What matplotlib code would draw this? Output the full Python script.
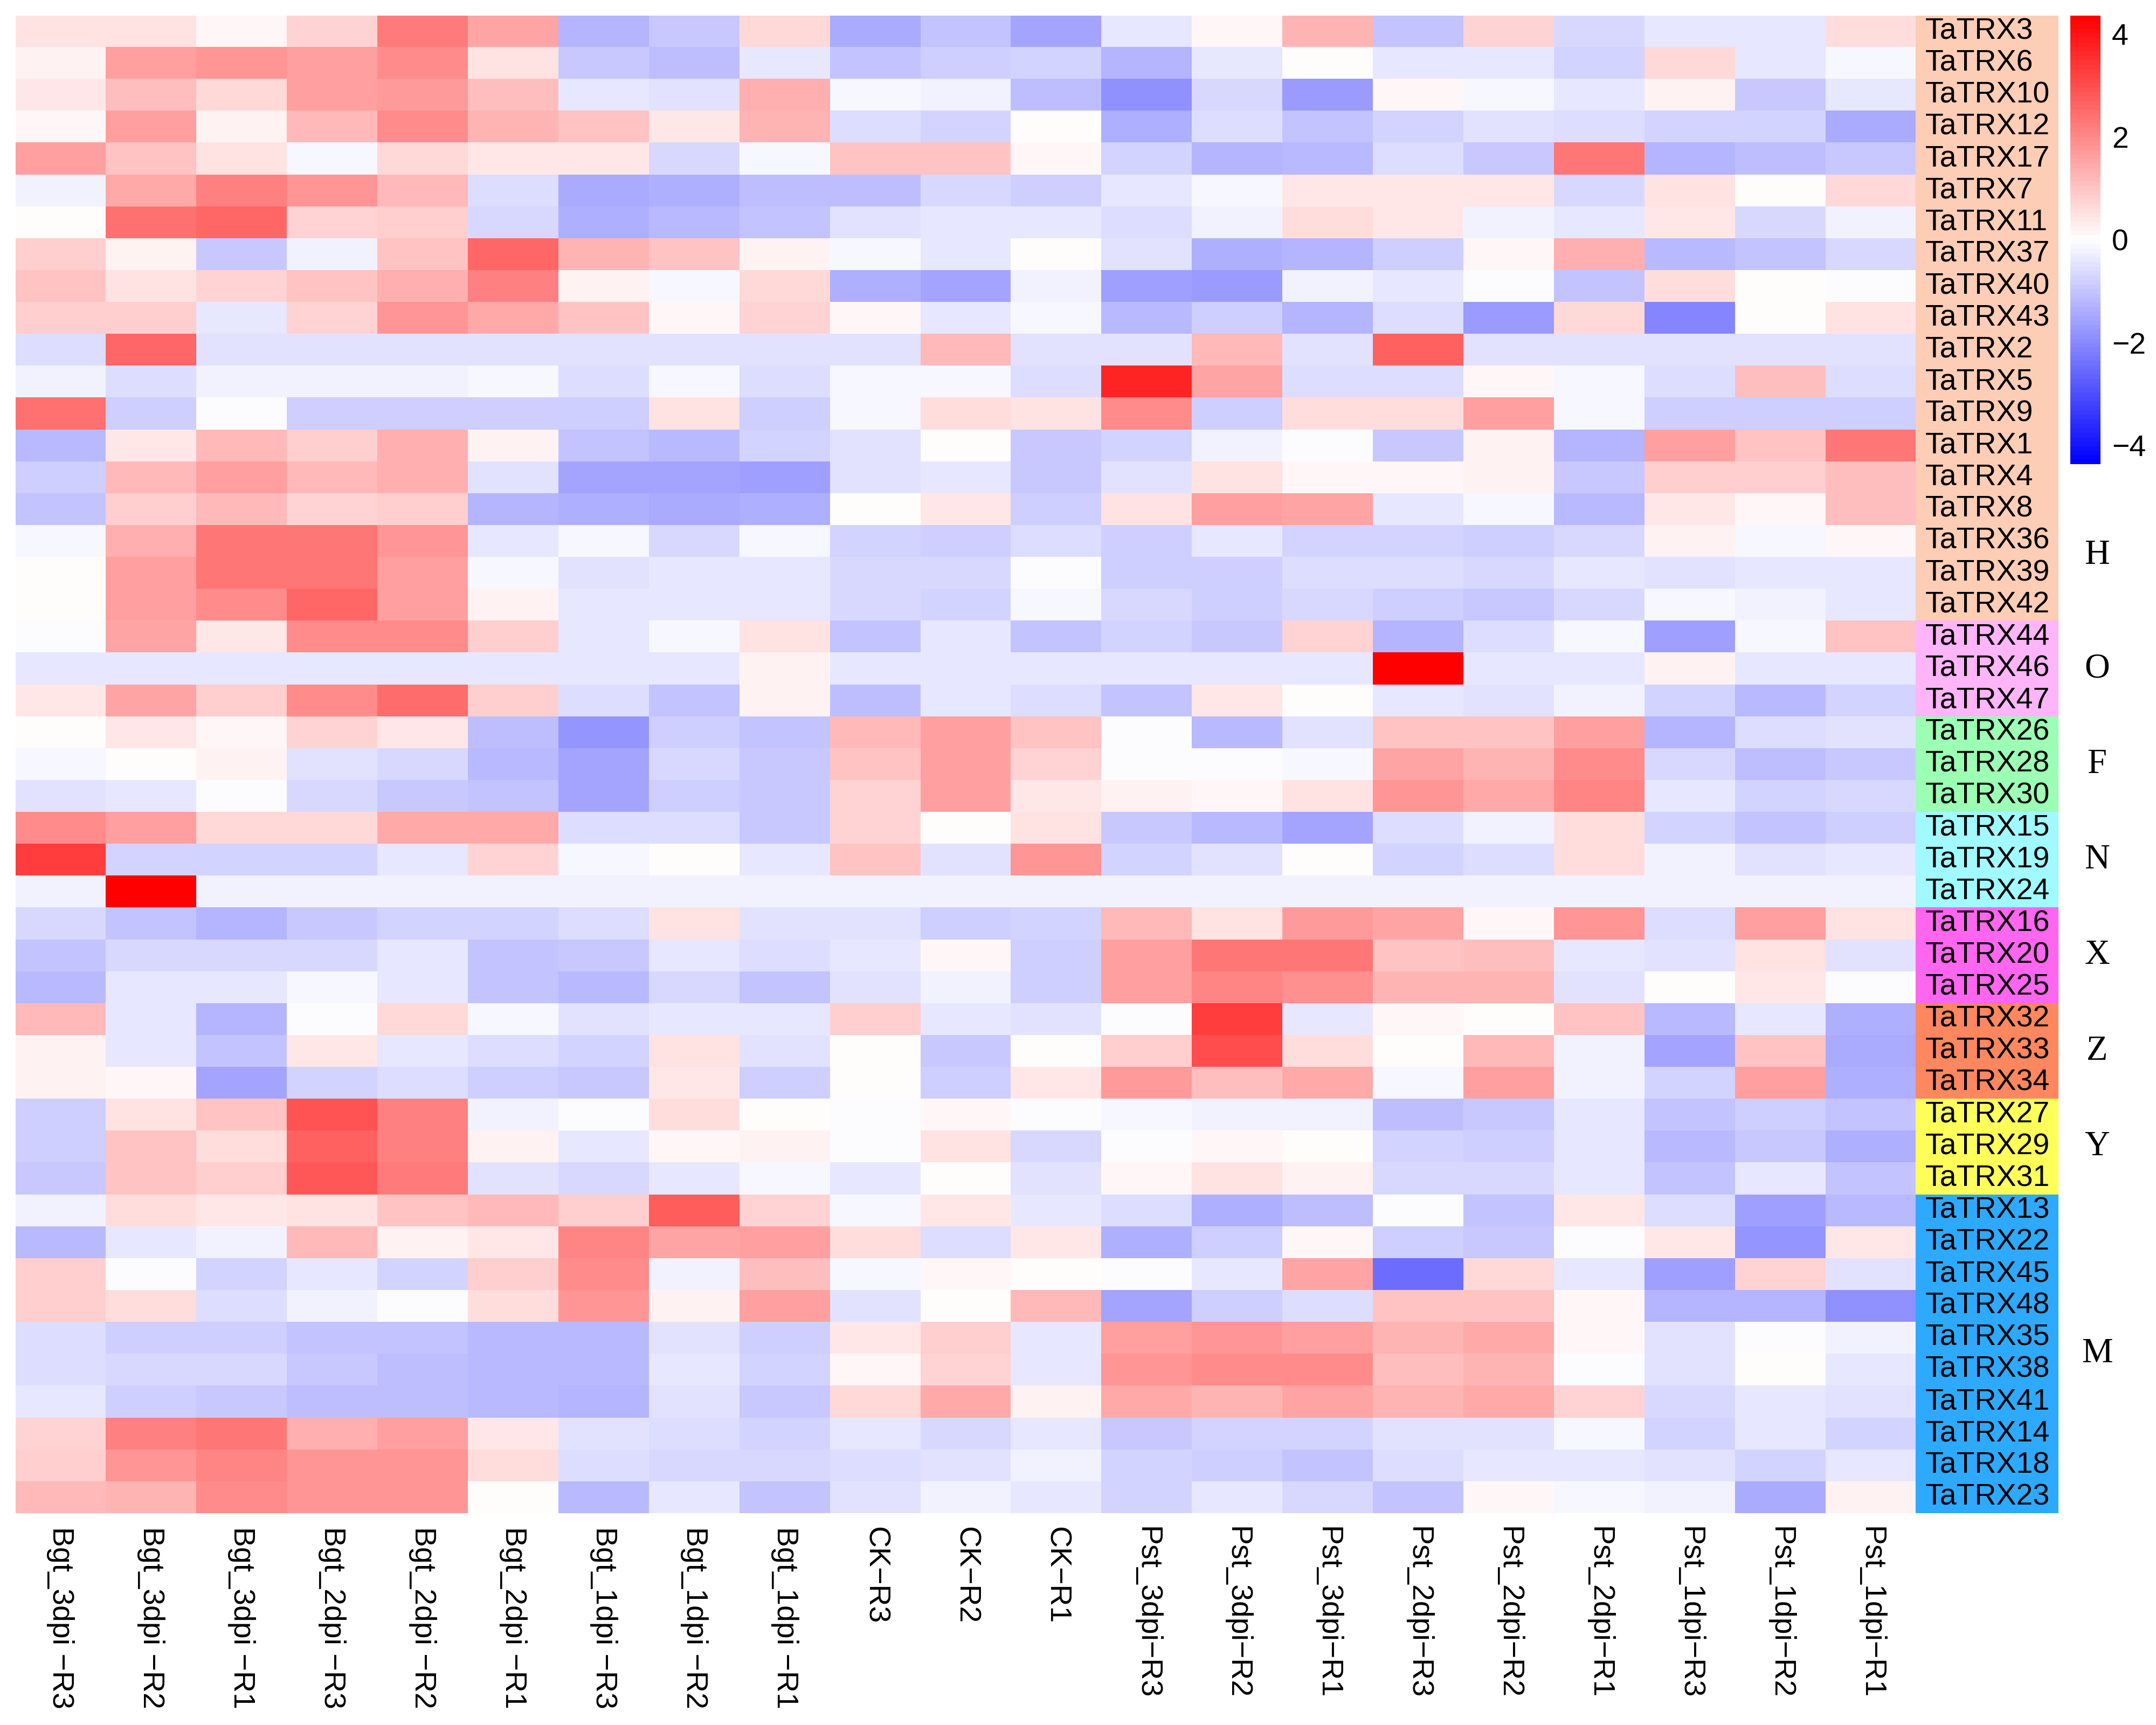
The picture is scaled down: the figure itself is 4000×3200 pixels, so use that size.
import numpy as np
import matplotlib.pyplot as plt
from matplotlib.colors import LinearSegmentedColormap, ListedColormap

plt.rcParams['font.family'] = ['Liberation Sans', 'DejaVu Sans']

# column (sample) names
samples = ['Bgt_3dpi \u2212R3', 'Bgt_3dpi \u2212R2', 'Bgt_3dpi \u2212R1',
           'Bgt_2dpi \u2212R3', 'Bgt_2dpi \u2212R2', 'Bgt_2dpi \u2212R1',
           'Bgt_1dpi \u2212R3', 'Bgt_1dpi \u2212R2', 'Bgt_1dpi \u2212R1',
           'CK\u2212R3', 'CK\u2212R2', 'CK\u2212R1',
           'Pst_3dpi\u2212R3', 'Pst_3dpi\u2212R2', 'Pst_3dpi\u2212R1',
           'Pst_2dpi\u2212R3', 'Pst_2dpi\u2212R2', 'Pst_2dpi\u2212R1',
           'Pst_1dpi\u2212R3', 'Pst_1dpi\u2212R2', 'Pst_1dpi\u2212R1']

genes = ['TaTRX3', 'TaTRX6', 'TaTRX10', 'TaTRX12', 'TaTRX17', 'TaTRX7', 'TaTRX11',
         'TaTRX37', 'TaTRX40', 'TaTRX43', 'TaTRX2', 'TaTRX5', 'TaTRX9', 'TaTRX1',
         'TaTRX4', 'TaTRX8', 'TaTRX36', 'TaTRX39', 'TaTRX42',
         'TaTRX44', 'TaTRX46', 'TaTRX47',
         'TaTRX26', 'TaTRX28', 'TaTRX30',
         'TaTRX15', 'TaTRX19', 'TaTRX24',
         'TaTRX16', 'TaTRX20', 'TaTRX25',
         'TaTRX32', 'TaTRX33', 'TaTRX34',
         'TaTRX27', 'TaTRX29', 'TaTRX31',
         'TaTRX13', 'TaTRX22', 'TaTRX45', 'TaTRX48', 'TaTRX35', 'TaTRX38',
         'TaTRX41', 'TaTRX14', 'TaTRX18', 'TaTRX23']

groups = ['H', 'O', 'F', 'N', 'X', 'Z', 'Y', 'M']
group_sizes = [19, 3, 3, 3, 3, 3, 3, 10]
group_colors = ['#FDCDB5', '#FFB5F8', '#9BFFB4', '#A0FAFF',
                '#FF66F0', '#FF875F', '#FFFF5A', '#2DAAFF']

# scaled expression values, one row per gene
values = [
    [0.5, 0.5, 0.17, 0.7, 2.2, 1.5, -1.25, -0.95, 0.65, -1.45, -1.0, -1.55, -0.35, 0.17, 1.3, -1.0, 0.77, -0.63, -0.43, -0.35, 0.6],
    [0.25, 1.65, 1.75, 1.6, 2.0, 0.5, -0.95, -1.1, -0.4, -1.0, -0.85, -0.73, -1.25, -0.35, 0.05, -0.35, -0.43, -0.73, 0.65, -0.35, -0.17],
    [0.43, 1.1, 0.65, 1.6, 1.7, 1.1, -0.38, -0.45, 1.35, -0.17, -0.25, -1.1, -1.9, -0.68, -1.7, 0.17, -0.17, -0.43, 0.25, -0.95, -0.43],
    [0.17, 1.6, 0.25, 1.2, 2.0, 1.25, 0.97, 0.35, 1.3, -0.55, -0.77, 0.05, -1.37, -0.6, -1.0, -0.77, -0.5, -0.55, -0.73, -0.73, -1.45],
    [1.6, 1.0, 0.5, -0.1, 0.65, 0.35, 0.42, -0.63, -0.15, 0.97, 0.97, 0.17, -0.73, -1.25, -1.2, -0.6, -0.95, 2.3, -1.25, -1.08, -0.95],
    [-0.25, 1.4, 2.15, 1.75, 1.2, -0.6, -1.42, -1.37, -1.08, -1.1, -0.65, -0.85, -0.43, -0.17, 0.43, 0.43, 0.35, -0.63, 0.46, 0.05, 0.65],
    [0.08, 2.4, 2.6, 0.7, 0.8, -0.68, -1.37, -1.2, -1.0, -0.5, -0.43, -0.43, -0.55, -0.25, 0.6, 0.35, -0.25, -0.35, 0.35, -0.68, -0.25],
    [0.8, 0.25, -0.95, -0.25, 1.0, 2.55, 1.25, 1.0, 0.25, -0.17, -0.35, 0.05, -0.5, -1.37, -1.25, -0.85, 0.17, 1.37, -1.15, -1.0, -0.63],
    [0.97, 0.5, 0.7, 1.0, 1.35, 2.15, 0.25, -0.17, 0.65, -1.37, -1.55, -0.25, -1.6, -1.7, -0.25, -0.35, -0.08, -1.0, 0.6, 0.05, -0.08],
    [0.85, 0.85, -0.43, 0.7, 1.75, 1.4, 1.0, 0.17, 0.7, 0.17, -0.4, -0.17, -1.2, -0.85, -1.25, -0.6, -1.7, 0.65, -2.05, 0.05, 0.5],
    [-0.55, 2.6, -0.5, -0.5, -0.5, -0.5, -0.5, -0.5, -0.5, -0.5, 1.2, -0.5, -0.5, 1.2, -0.5, 2.7, -0.5, -0.5, -0.5, -0.5, -0.5],
    [-0.25, -0.6, -0.25, -0.25, -0.25, -0.17, -0.6, -0.17, -0.55, -0.17, -0.17, -0.6, 3.7, 1.55, -0.6, -0.6, 0.17, -0.17, -0.6, 1.1, -0.6],
    [2.4, -0.85, -0.08, -0.85, -0.85, -0.85, -0.85, 0.5, -0.85, -0.17, 0.6, 0.5, 1.95, -0.85, 0.6, 0.6, 1.6, -0.17, -0.85, -0.85, -0.85],
    [-1.2, 0.35, 1.15, 0.85, 1.37, 0.25, -0.97, -1.15, -0.77, -0.5, 0.02, -0.95, -0.73, -0.25, -0.08, -0.95, 0.25, -1.25, 1.6, 1.0, 2.3],
    [-0.8, 1.2, 1.6, 1.2, 1.37, -0.45, -1.55, -1.55, -1.62, -0.5, -0.43, -0.95, -0.5, 0.46, 0.17, 0.17, 0.25, -0.95, 0.85, 0.85, 1.1],
    [-1.0, 0.85, 1.2, 0.7, 0.85, -1.25, -1.37, -1.45, -1.37, 0.05, 0.35, -0.85, 0.5, 1.6, 1.5, -0.35, -0.17, -1.2, 0.43, 0.17, 1.07],
    [-0.17, 1.37, 2.27, 2.27, 1.75, -0.4, -0.17, -0.68, -0.17, -0.73, -0.85, -0.6, -0.8, -0.4, -0.73, -0.73, -0.8, -0.63, 0.25, -0.1, 0.17],
    [0.05, 1.65, 2.35, 2.35, 1.6, -0.17, -0.5, -0.38, -0.38, -0.63, -0.68, -0.08, -0.85, -0.85, -0.55, -0.55, -0.63, -0.4, -0.5, -0.35, -0.38],
    [0.05, 1.6, 2.0, 2.55, 1.6, 0.22, -0.43, -0.43, -0.38, -0.63, -0.73, -0.17, -0.63, -0.8, -0.63, -0.8, -0.95, -0.63, -0.12, -0.25, -0.35],
    [-0.08, 1.5, 0.35, 1.93, 1.93, 0.8, -0.43, -0.17, 0.5, -0.97, -0.43, -1.0, -0.73, -0.95, 0.77, -1.25, -0.6, -0.17, -1.62, -0.17, 1.0],
    [-0.38, -0.38, -0.38, -0.38, -0.38, -0.38, -0.38, -0.38, 0.25, -0.38, -0.35, -0.35, -0.35, -0.35, -0.35, 4.36, -0.35, -0.35, 0.25, -0.35, -0.35],
    [0.35, 1.5, 0.85, 1.93, 2.45, 0.8, -0.55, -0.97, 0.25, -1.08, -0.35, -0.6, -1.0, 0.35, 0.03, -0.4, -0.5, -0.25, -0.73, -1.2, -0.73],
    [0.05, 0.43, 0.17, 0.77, 0.35, -1.08, -1.8, -0.85, -0.97, 1.2, 1.6, 0.97, -0.08, -1.2, -0.5, 0.97, 0.97, 1.6, -1.25, -0.6, -0.5],
    [-0.17, 0.05, 0.22, -0.5, -0.68, -1.2, -1.55, -0.68, -0.95, 1.0, 1.6, 0.7, -0.08, -0.08, -0.17, 1.55, 1.3, 1.95, -0.63, -1.1, -0.95],
    [-0.5, -0.43, -0.08, -0.68, -0.95, -1.0, -1.55, -0.8, -0.95, 0.7, 1.6, 0.35, 0.25, 0.17, 0.5, 1.75, 1.4, 2.05, -0.43, -0.73, -0.68],
    [2.0, 1.6, 0.65, 0.65, 1.4, 1.4, -0.55, -0.55, -0.95, 0.7, 0.05, 0.46, -0.95, -1.2, -1.55, -0.6, -0.25, 0.6, -0.77, -1.0, -0.85],
    [3.25, -0.73, -0.73, -0.73, -0.43, 0.7, -0.17, 0.05, -0.43, 1.0, -0.47, 1.83, -0.73, -0.5, 0.03, -0.73, -0.55, 0.56, -0.25, -0.5, -0.35],
    [-0.25, 4.36, -0.25, -0.25, -0.25, -0.25, -0.25, -0.25, -0.25, -0.25, -0.25, -0.25, -0.25, -0.25, -0.25, -0.25, -0.25, -0.25, -0.25, -0.25, -0.25],
    [-0.68, -1.0, -1.25, -0.95, -0.73, -0.73, -0.55, 0.5, -0.5, -0.5, -0.82, -0.73, 1.2, 0.5, 1.7, 1.5, 0.17, 1.8, -0.55, 1.6, 0.46],
    [-1.0, -0.63, -0.68, -0.68, -0.43, -1.0, -0.95, -0.43, -0.55, -0.43, 0.17, -0.8, 1.6, 2.27, 2.27, 0.97, 1.07, -0.35, -0.45, 0.46, -0.5],
    [-1.15, -0.43, -0.43, -0.17, -0.43, -1.0, -1.2, -0.68, -1.0, -0.5, -0.25, -0.8, 1.6, 2.05, 1.88, 1.28, 1.28, -0.5, 0.03, 0.35, -0.08],
    [1.15, -0.38, -1.25, -0.08, 0.65, -0.17, -0.5, -0.35, -0.43, 0.85, -0.43, -0.5, -0.08, 3.3, -0.35, 0.17, 0.03, 1.0, -1.2, -0.35, -1.37],
    [0.25, -0.43, -1.0, 0.43, -0.35, -0.6, -0.77, 0.5, -0.5, 0.05, -0.95, 0.03, 0.8, 3.0, 0.6, 0.03, 1.15, -0.25, -1.55, 0.97, -1.42],
    [0.25, 0.17, -1.55, -0.73, -0.6, -0.8, -0.95, 0.35, -0.85, 0.05, -0.85, 0.43, 1.7, 1.1, 1.45, -0.17, 1.6, -0.25, -0.73, 1.6, -1.37],
    [-0.85, 0.46, 0.97, 2.95, 2.15, -0.25, -0.08, 0.56, 0.05, -0.08, 0.17, -0.08, -0.17, -0.25, -0.25, -1.08, -0.95, -0.43, -0.97, -0.85, -0.97],
    [-0.85, 1.0, 0.56, 2.7, 2.15, 0.25, -0.43, 0.17, 0.25, -0.08, 0.45, -0.68, -0.08, 0.17, 0.05, -0.77, -0.85, -0.43, -1.15, -0.9, -1.37],
    [-0.95, 1.0, 0.85, 2.85, 2.2, -0.5, -0.68, -0.43, -0.17, -0.43, 0.04, -0.5, 0.17, 0.5, 0.22, -0.68, -0.68, -0.35, -0.97, -0.43, -0.97],
    [-0.25, 0.56, 0.35, 0.5, 1.0, 1.2, 0.8, 2.75, 0.7, -0.17, 0.43, -0.43, -0.55, -1.37, -1.08, -0.08, -0.97, 0.35, -0.55, -1.62, -1.2],
    [-1.2, -0.43, -0.25, 1.15, 0.25, 0.35, 2.05, 1.5, 1.6, 0.56, -0.6, 0.35, -1.37, -0.85, 0.17, -0.85, -0.95, -0.08, 0.43, -1.8, 0.35],
    [0.8, -0.08, -0.73, -0.35, -0.73, 0.8, 2.0, -0.25, 1.07, -0.17, 0.17, 0.03, -0.08, -0.35, 1.55, -2.45, 0.65, -0.43, -1.62, 0.77, -0.5],
    [0.85, 0.56, -0.6, -0.25, -0.08, 0.56, 1.75, 0.22, 1.6, -0.45, 0.04, 1.2, -1.55, -0.85, -0.55, 0.97, 0.97, 0.17, -1.25, -1.25, -1.9],
    [-0.6, -0.85, -0.85, -1.0, -1.0, -1.2, -1.2, -0.5, -0.85, 0.43, 0.85, -0.4, 1.6, 1.75, 1.6, 1.28, 1.4, 0.17, -0.5, -0.08, -0.25],
    [-0.55, -0.68, -0.68, -0.95, -1.1, -1.2, -1.2, -0.43, -0.73, 0.17, 0.7, -0.4, 1.8, 1.93, 1.93, 1.1, 1.25, -0.08, -0.5, 0.05, -0.4],
    [-0.43, -0.85, -0.95, -1.08, -1.08, -1.2, -1.25, -0.5, -0.95, 0.65, 1.4, 0.22, 1.4, 1.3, 1.5, 1.3, 1.4, 0.7, -0.68, -0.4, -0.45],
    [0.7, 2.15, 2.35, 1.37, 1.6, 0.35, -0.5, -0.55, -0.73, -0.43, -0.68, -0.35, -0.95, -0.77, -0.77, -0.5, -0.5, -0.17, -0.77, -0.35, -0.77],
    [0.8, 1.83, 2.05, 1.8, 1.8, 0.56, -0.6, -0.68, -0.68, -0.55, -0.45, -0.25, -0.77, -0.85, -1.0, -0.55, -0.35, -0.35, -0.5, -0.73, -0.4],
    [1.15, 1.3, 1.93, 1.8, 1.8, 0.05, -1.2, -0.43, -1.0, -0.5, -0.25, -0.43, -0.77, -0.35, -0.68, -1.0, 0.17, -0.17, -0.25, -1.45, 0.25],
]

data = np.array(values)
n_rows, n_cols = data.shape
vmax = 4.36

cmap = LinearSegmentedColormap.from_list('bwr_ph', ['blue', 'white', 'red'], N=100)

fig = plt.figure(figsize=(10, 8), dpi=400)

# main heatmap
ax = fig.add_axes([0.00713, 0.12281, 0.88137, 0.86828])
im = ax.imshow(data, cmap=cmap, vmin=-vmax, vmax=vmax, aspect='auto',
               interpolation='nearest', extent=(0, n_cols, n_rows, 0))
ax.set_xticks(np.arange(n_cols) + 0.5)
ax.set_xticklabels(samples, rotation=-90, fontsize=10, va='top', ha='center')
ax.tick_params(axis='x', length=0, pad=4.5)
ax.set_yticks([])
for s in ax.spines.values():
    s.set_visible(False)

# row annotation strip with gene names inside
ax2 = fig.add_axes([0.8885, 0.12281, 0.06625, 0.86828])
row_group = np.repeat(np.arange(len(groups)), group_sizes)
ax2.imshow(row_group[:, None], cmap=ListedColormap(group_colors), vmin=-0.5,
           vmax=len(groups) - 0.5, aspect='auto', interpolation='nearest',
           extent=(0, 1, n_rows, 0))
ax2.set_xlim(0, 1)
ax2.set_ylim(n_rows, 0)
ax2.axis('off')
for i, g in enumerate(genes):
    ax2.text(0.068, i + 0.5, g, va='center', ha='left', fontsize=10)

# group letters
starts = np.cumsum([0] + group_sizes[:-1])
for g, st, sz in zip(groups, starts, group_sizes):
    yc = st + sz / 2
    if g == 'H':
        yc = 16.95
    ax2.text(1.27, yc, g, va='center', ha='center', fontsize=11.7,
             family='Liberation Serif', clip_on=False)

# colour bar
cax = fig.add_axes([0.96025, 0.731, 0.014, 0.260])
cb = fig.colorbar(im, cax=cax, ticks=[-4, -2, 0, 2, 4])
cb.outline.set_visible(False)
cax.tick_params(length=0, labelsize=10, pad=3.8)

plt.savefig('out.png', dpi=400)
